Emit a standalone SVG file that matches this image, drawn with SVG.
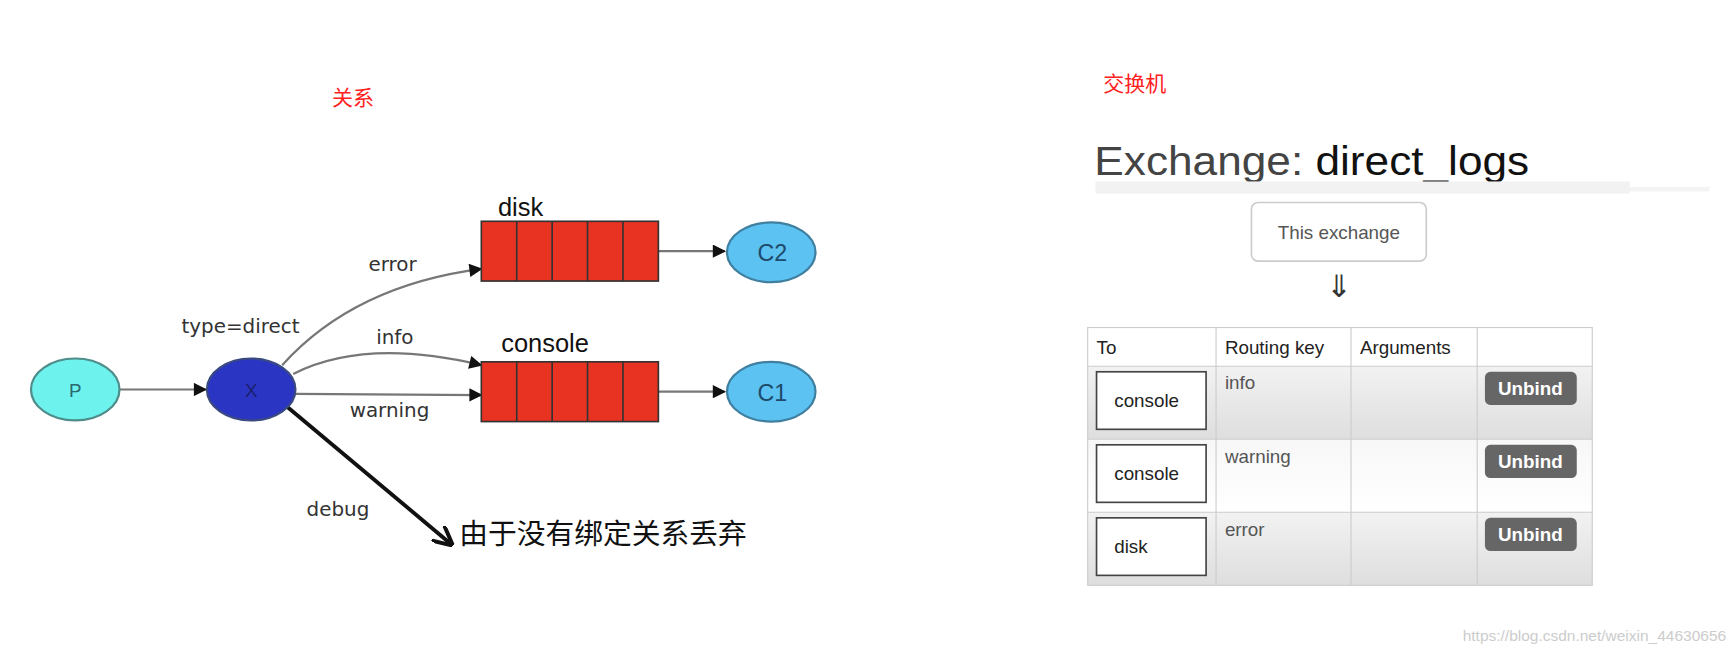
<svg xmlns="http://www.w3.org/2000/svg" width="1735" height="653" viewBox="0 0 1735 653">
<defs>
<style>
text{font-family:"Liberation Sans","Noto Sans CJK SC",sans-serif}
.lbl{font-size:18px;fill:#333;font-family:"DejaVu Sans",sans-serif}
.q{fill:#e83323;stroke:#333;stroke-width:1.5}
.cell{stroke:#333;stroke-width:1.5}
.edge{fill:none;stroke:#777;stroke-width:2}
.th{font-size:17px;fill:#222}
.td{font-size:17px;fill:#555}
.box{fill:#fff;stroke:#444;stroke-width:1.5}
.btn{fill:#666}
.btnt{font-size:17px;font-weight:bold;fill:#fff;text-anchor:middle}
.grid{fill:none;stroke:#ccc;stroke-width:1}
</style>
<marker id="ah" viewBox="0 0 10 10" refX="9" refY="5" markerWidth="13" markerHeight="12" orient="auto" markerUnits="userSpaceOnUse"><path d="M0,0L10,5L0,10z" fill="#111"/></marker>
<marker id="ah2" viewBox="0 0 10 10" refX="9" refY="5" markerWidth="18" markerHeight="18" orient="auto" markerUnits="userSpaceOnUse"><path d="M0,0L10,5L0,10" fill="none" stroke="#111" stroke-width="2"/></marker>
<linearGradient id="rg" x1="0" y1="0" x2="0" y2="1"><stop offset="0" stop-color="#f2f2f2"/><stop offset="1" stop-color="#dedede"/></linearGradient>
<linearGradient id="rw" x1="0" y1="0" x2="0" y2="1"><stop offset="0" stop-color="#f7f7f7"/><stop offset="1" stop-color="#fff"/></linearGradient>
</defs>
<rect width="1735" height="653" fill="#fff"/>
<g transform="scale(1.1065)">
<text x="300" y="95" font-size="19" fill="#ff2020">关系</text>
<text x="997" y="82" font-size="19" fill="#ff2020">交换机</text>

<g id="connectors">
<line x1="108" y1="352" x2="186" y2="352" class="edge" stroke="#333" marker-end="url(#ah)"/>
<path d="M255,330 Q320,258 435,243" class="edge" marker-end="url(#ah)"/>
<path d="M265,338 Q330,305 435,330" class="edge" marker-end="url(#ah)"/>
<path d="M267,356 L435,357" class="edge" marker-end="url(#ah)"/>
<line x1="595" y1="227" x2="655" y2="227" class="edge" stroke="#222" marker-end="url(#ah)"/>
<line x1="595" y1="354" x2="655" y2="354" class="edge" stroke="#222" marker-end="url(#ah)"/>
<line x1="260" y1="368" x2="408" y2="492" stroke="#111" stroke-width="3.5" marker-end="url(#ah2)"/>
<text x="333" y="245" class="lbl">error</text>
<text x="164" y="301" class="lbl">type=direct</text>
<text x="340" y="311" class="lbl">info</text>
<text x="316" y="377" class="lbl">warning</text>
<text x="277" y="466" class="lbl" fill="#555">debug</text>
</g>
<g id="P"><ellipse cx="68" cy="352" rx="40" ry="28" fill="#6ef2ee" stroke="#4f8d8b" stroke-width="2"/><text x="68" y="359" font-size="17" text-anchor="middle" fill="#2a6a70">P</text></g>
<g id="X"><ellipse cx="227" cy="352" rx="40" ry="28" fill="#2b35c4" stroke="#3a4a80" stroke-width="2"/><text x="227" y="359" font-size="17" text-anchor="middle" fill="#1a2070">X</text></g>
<g id="disk"><text x="450" y="195" font-size="23" fill="#111">disk</text>
<rect x="435" y="200" width="160" height="54" class="q"/>
<path d="M467,200v54M499,200v54M531,200v54M563,200v54" class="cell"/></g>
<g id="console"><text x="453" y="318" font-size="23" fill="#111">console</text>
<rect x="435" y="327" width="160" height="54" class="q"/>
<path d="M467,327v54M499,327v54M531,327v54M563,327v54" class="cell"/></g>
<g id="C2"><ellipse cx="697" cy="228" rx="40" ry="27" fill="#5cc2f2" stroke="#3f7fa0" stroke-width="2"/><text x="698" y="236" font-size="21" text-anchor="middle" fill="#1d4a6a">C2</text></g>
<g id="C1"><ellipse cx="697" cy="354" rx="40" ry="27" fill="#5cc2f2" stroke="#3f7fa0" stroke-width="2"/><text x="698" y="362" font-size="21" text-anchor="middle" fill="#1d4a6a">C1</text></g>
<text x="415" y="492" font-size="26" fill="#111">由于没有绑定关系丢弃</text>

<g id="exchange">
<text x="989" y="158" font-size="36" fill="#444" textLength="393" lengthAdjust="spacingAndGlyphs">Exchange: <tspan fill="#111">direct_logs</tspan></text>
<rect x="990" y="164" width="483" height="11" fill="#f2f2f2"/>
<rect x="1473" y="169" width="72" height="4" fill="#f4f4f4"/>
</g>
<g id="this-exchange"><rect x="1131" y="183" width="158" height="53" rx="6" fill="#fff" stroke="#ccc" stroke-width="1.5"/><text x="1210" y="216" font-size="17" fill="#555" text-anchor="middle">This exchange</text></g>
<text x="1210" y="268" font-size="28" fill="#333" text-anchor="middle">⇓</text>
<g id="table">
<rect x="983" y="296" width="456" height="35" fill="#fff"/>
<rect x="983" y="331" width="456" height="66" fill="url(#rg)"/>
<rect x="983" y="397" width="456" height="66" fill="url(#rw)"/>
<rect x="983" y="463" width="456" height="66" fill="url(#rg)"/>
<rect x="983" y="296" width="456" height="233" class="grid"/>
<path d="M1099,296V529M1221,296V529M1335,296V529M983,331H1439M983,397H1439M983,463H1439" class="grid"/>
<text x="991" y="320" class="th">To</text>
<text x="1107" y="320" class="th">Routing key</text>
<text x="1229" y="320" class="th">Arguments</text>
<rect x="991" y="336" width="99" height="52" class="box"/><text x="1007" y="368" class="th">console</text>
<rect x="991" y="402" width="99" height="52" class="box"/><text x="1007" y="434" class="th">console</text>
<rect x="991" y="468" width="99" height="52" class="box"/><text x="1007" y="500" class="th">disk</text>
<text x="1107" y="352" class="td">info</text>
<text x="1107" y="418" class="td">warning</text>
<text x="1107" y="484" class="td">error</text>
<rect x="1342" y="336" width="83" height="30" rx="5" class="btn"/><text x="1383" y="357" class="btnt">Unbind</text>
<rect x="1342" y="402" width="83" height="30" rx="5" class="btn"/><text x="1383" y="423" class="btnt">Unbind</text>
<rect x="1342" y="468" width="83" height="30" rx="5" class="btn"/><text x="1383" y="489" class="btnt">Unbind</text>
</g>
<text x="1560" y="579" font-size="14" fill="#ccc" text-anchor="end">https://blog.csdn.net/weixin_44630656</text>
</g>
</svg>
